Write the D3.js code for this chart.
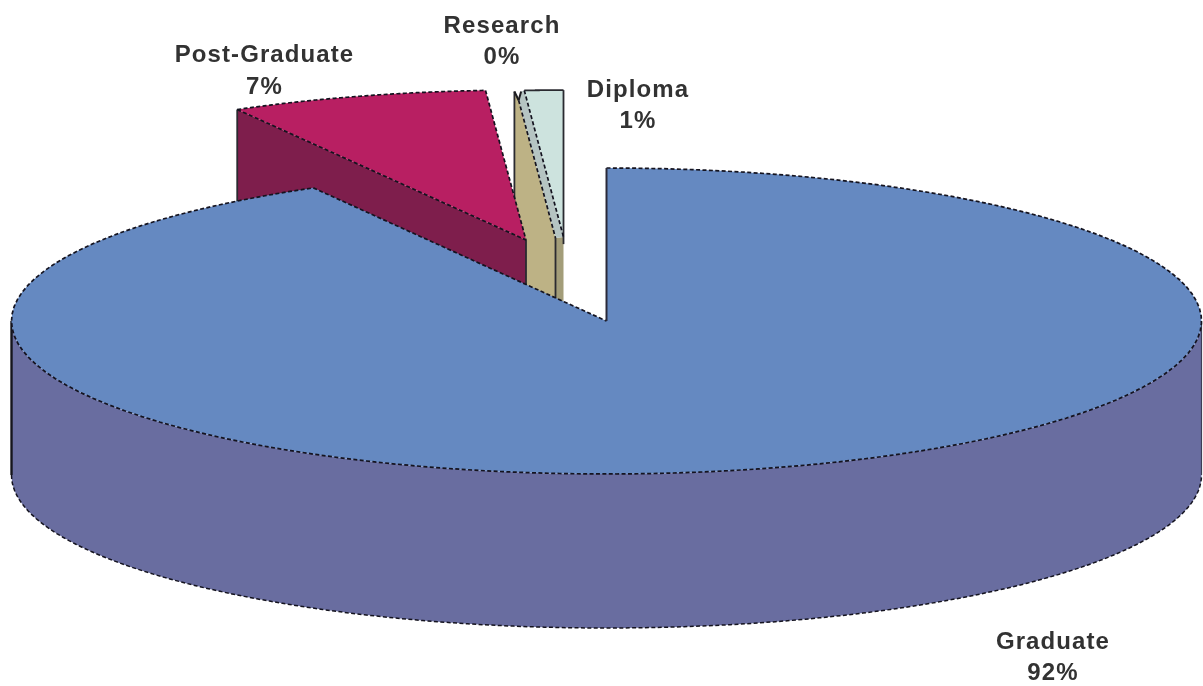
<!DOCTYPE html>
<html><head><meta charset="utf-8">
<script src="https://cdn.jsdelivr.net/npm/d3@7"></script>
<style>html,body{margin:0;background:#fff}svg{display:block}
text{font-family:"Liberation Sans",Arial,sans-serif;font-weight:bold;font-size:24px;letter-spacing:1.1px;fill:#333;text-anchor:middle;filter:url(#soft)}</style>
</head><body><svg id="c" width="1203" height="686"><defs><filter id="soft" x="-5%" y="-5%" width="110%" height="110%"><feGaussianBlur stdDeviation="0.45"/></filter></defs></svg>
<script>
const categories = ["Graduate","Post-Graduate","Research","Diploma"];
const values = [91.8,7.1,0.1,1.0];
const percentLabels = ["92%","7%","0%","1%"];

const W=1203,H=686,cx=606.5,cy=321,rx=595,ry=153,depth=154;
const X=d3.scaleLinear().domain([-1,1]).range([-rx,rx]);
const Y=d3.scaleLinear().domain([-1,1]).range([-ry,ry]);
const svg=d3.select("#c");
const line=d3.line().x(d=>d[0]).y(d=>d[1]);
const closed=p=>line(p)+"Z";

const slices=d3.pie().sort(null).value(d=>d)(values);
// exploded apexes relative to the pie centre, and rim scale, per category
const shift=[[0,0],[-80.5,-81],[-51,-83],[-43,-84]];
const rimScaleX=[1,0.985,1,1.05];
const rimScaleY=[1,0.98,0.96,0.96];
const rim=(i,a,dy=0)=>[cx+shift[i][0]+X(Math.sin(a)*rimScaleX[i]), cy+shift[i][1]+dy+Y(-Math.cos(a)*rimScaleY[i])];
const apex=(i,dy=0)=>[cx+shift[i][0],cy+shift[i][1]+dy];
const arcPts=(i,a0,a1,dy=0)=>d3.range(0,1.0001,1/120).map(t=>rim(i,a0+(a1-a0)*t,dy));
const down=(p,d=depth)=>[p[0],p[1]+d];
const lerp=(a,b,t)=>[a[0]+(b[0]-a[0])*t,a[1]+(b[1]-a[1])*t];

const DASH="4 2.4",INK="#14131f";
function paint(p,c){svg.append("path").attr("d",closed(p)).attr("fill",c).attr("stroke","none");}
function dashed(p,w=1.7){svg.append("path").attr("d",line(p)).attr("fill","none").attr("stroke",INK).attr("stroke-width",w).attr("stroke-dasharray",DASH);}
function solid(p,w=1.8,c="#2a2a30"){svg.append("path").attr("d",line(p)).attr("fill","none").attr("stroke",c).attr("stroke-width",w);}

const [gr,pg,re,di]=slices;
const rL=rim(2,re.startAngle), rR=rim(2,re.endAngle), dL=rim(3,di.startAngle), dR=rim(3,di.endAngle);
const rA=apex(2), dA=apex(3);
const notch=lerp(lerp(rL,rR,0.5),rA,0.06);
const rFar=[rR[0]+3,rR[1]];
// lower strip, Research wall, band between Research and Diploma
paint([rA,dA,down(dA),down(rA)],"#a39d79");
paint([rL,notch,rA,down(rA),down(rL)],"#bdb285");
paint([notch,rFar,dL,dA,rA],"#b5c4c2");
// Diploma top
paint([...arcPts(3,di.startAngle,di.endAngle),dA],"#cde3de");
solid([rL,down(rL)]);
solid(arcPts(3,di.startAngle,di.endAngle));
solid([dR,down(dR)]);
solid([rA,down(rA)]);
dashed([notch,rA]);
dashed([dL,dA]);
solid([rL,notch],2,"#1c1c20");
solid([rFar,notch],2,"#1c1c20");

// Post-Graduate
const pL=rim(1,pg.startAngle),pR=rim(1,pg.endAngle),pA=apex(1);
paint([pL,pA,down(pA),down(pL)],"#7e1e4c");
paint([...arcPts(1,pg.startAngle,pg.endAngle),pA],"#b81f62");
solid([pL,down(pL)]);
solid([pA,down(pA)]);
dashed(arcPts(1,pg.startAngle,pg.endAngle));
dashed([pR,pA]);
dashed([pL,pA]);

// Graduate: wall then top
const frontHigh=arcPts(0,Math.PI/2,Math.PI*1.5);
const frontLow=arcPts(0,Math.PI*1.5,Math.PI/2,depth);
paint([...frontHigh,...frontLow],"#696da0");
solid([rim(0,Math.PI*1.5),rim(0,Math.PI*1.5,depth)],2.4,"#15151c");
solid([rim(0,Math.PI/2),rim(0,Math.PI/2,depth)],1.2,"#3d3d55");
dashed(frontLow,1.5);
const gradTop=arcPts(0,gr.startAngle,gr.endAngle);
const gA=apex(0);
paint([...gradTop,gA],"#6589c1");
dashed(gradTop);
dashed([gradTop[gradTop.length-1],gA]);
solid([gA,gradTop[0]],2,"#2a2a3a");

// Labels
const labelAt=[[1053,649,680],[264.5,62,94],[502,33,64],[638,97,128]];
categories.forEach((c,i)=>{
  svg.append("text").attr("x",labelAt[i][0]).attr("y",labelAt[i][1]).text(c);
  svg.append("text").attr("x",labelAt[i][0]).attr("y",labelAt[i][2]).text(percentLabels[i]);
});
</script></body></html>
